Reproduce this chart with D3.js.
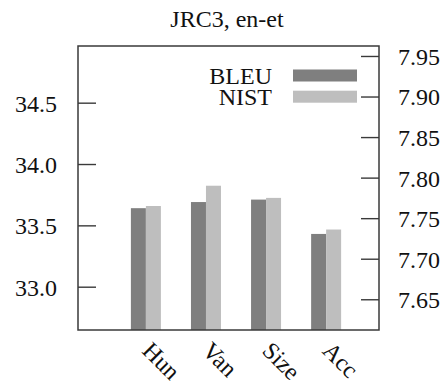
<!DOCTYPE html>
<html>
<head>
<meta charset="utf-8">
<script src="https://cdn.jsdelivr.net/npm/d3@7"></script>
<style>
  body { margin: 0; background: #fff; }
  svg text { font-family: "Liberation Serif", "Times New Roman", serif !important; fill: #111; }
</style>
</head>
<body>
<div id="chart"></div>
<script>
// data
var categories = ["Hun", "Van", "Size", "Acc"];
var bleu = [33.64, 33.69, 33.71, 33.43];
var nist = [7.765, 7.790, 7.775, 7.736];
var leftTicks = [33.0, 33.5, 34.0, 34.5];
var rightTicks = [7.65, 7.70, 7.75, 7.80, 7.85, 7.90, 7.95];
var title = "JRC3, en-et";

var width = 446,
    height = 388,
    margin = { left: 78, right: 67, top: 46, bottom: 58 },
    fontSize = 24,
    serif = "'Liberation Serif', 'Times New Roman', serif",
    tickLen = 18,
    barW = 15,
    colBleu = "#7f7f7f",
    colNist = "#bebebe",
    frameCol = "#3a3a3a";

var x0 = margin.left, x1 = width - margin.right,
    y0 = height - margin.bottom, y1 = margin.top;

var x = d3.scaleLinear().domain([-1.13, 3.88]).range([x0, x1]);
var yL = d3.scaleLinear().domain([32.647, 34.962]).range([y0, y1]);
var yR = d3.scaleLinear().domain([7.6121, 7.9623]).range([y0, y1]);

var svg = d3.select("#chart").append("svg")
    .attr("width", width)
    .attr("height", height)
    .attr("font-family", serif);

svg.append("text")
    .attr("x", 227)
    .attr("y", 27)
    .attr("text-anchor", "middle")
    .style("font-size", fontSize + "px")
    .text(title);

var rows = categories.map(function(c, i) { return { cat: c, i: i, bleu: bleu[i], nist: nist[i] }; });

// bars
svg.selectAll(".bleu").data(rows).enter().append("rect")
    .attr("class", "bleu")
    .attr("x", function(d) { return x(d.i) - barW; })
    .attr("y", function(d) { return yL(d.bleu); })
    .attr("width", barW)
    .attr("height", function(d) { return y0 - yL(d.bleu); })
    .attr("fill", colBleu);

svg.selectAll(".nist").data(rows).enter().append("rect")
    .attr("class", "nist")
    .attr("x", function(d) { return x(d.i); })
    .attr("y", function(d) { return yR(d.nist); })
    .attr("width", barW)
    .attr("height", function(d) { return y0 - yR(d.nist); })
    .attr("fill", colNist);

// left axis (ticks point inward)
var left = svg.append("g").attr("transform", "translate(" + x0 + ",0)")
    .call(d3.axisRight(yL).tickValues(leftTicks).tickSize(tickLen).tickFormat(d3.format(".1f")))
    .attr("font-family", serif);
left.select(".domain").remove();
left.selectAll(".tick line").attr("stroke", frameCol).attr("stroke-width", 1.4);
left.selectAll(".tick text")
    .attr("x", -21).attr("dy", "0.35em")
    .attr("text-anchor", "end")
    .style("font-size", fontSize + "px")
    .attr("fill", "#111");

// right axis
var right = svg.append("g").attr("transform", "translate(" + x1 + ",0)")
    .call(d3.axisLeft(yR).tickValues(rightTicks).tickSize(tickLen).tickFormat(d3.format(".2f")))
    .attr("font-family", serif);
right.select(".domain").remove();
right.selectAll(".tick line").attr("stroke", frameCol).attr("stroke-width", 1.4);
right.selectAll(".tick text")
    .attr("x", 19).attr("dy", "0.35em")
    .attr("text-anchor", "start")
    .style("font-size", fontSize + "px")
    .attr("fill", "#111");

// frame
svg.append("rect")
    .attr("x", x0).attr("y", y1)
    .attr("width", x1 - x0).attr("height", y0 - y1)
    .attr("fill", "none")
    .attr("stroke", frameCol)
    .attr("stroke-width", 1.5);

// rotated category labels
svg.selectAll(".xlab").data(rows).enter().append("text")
    .attr("class", "xlab")
    .attr("transform", function(d) { return "translate(" + (x(d.i) - 5) + "," + (y0 + 22) + ") rotate(45)"; })
    .style("font-size", fontSize + "px")
    .text(function(d) { return d.cat; });

// legend
var legend = [{ name: "BLEU", col: colBleu, y: 75.5 }, { name: "NIST", col: colNist, y: 96.7 }];
var lg = svg.selectAll(".leg").data(legend).enter().append("g").attr("class", "leg");
lg.append("text")
    .attr("x", 272)
    .attr("y", function(d) { return d.y; })
    .attr("dy", "0.35em")
    .attr("text-anchor", "end")
    .style("font-size", fontSize + "px")
    .text(function(d) { return d.name; });
lg.append("rect")
    .attr("x", 293)
    .attr("y", function(d) { return d.y - 6; })
    .attr("width", 64)
    .attr("height", 12)
    .attr("fill", function(d) { return d.col; });
</script>
</body>
</html>
